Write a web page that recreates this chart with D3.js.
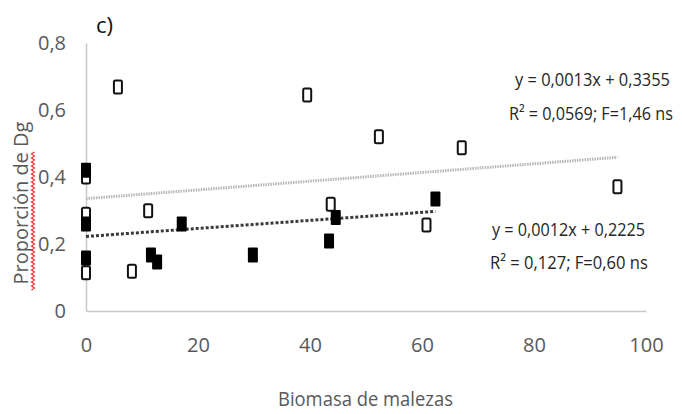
<!DOCTYPE html>
<html>
<head>
<meta charset="utf-8">
<script src="https://cdn.jsdelivr.net/npm/d3@7"></script>
<style>
  html, body { margin: 0; padding: 0; background: #fff; }
  svg { display: block; font-family: "Open Sans", sans-serif; }
</style>
</head>
<body>
<svg id="chart" width="682" height="414"></svg>
<script>
// Open squares: first group
const openX = [0, 0, 0, 5.7, 8.2, 11.1, 39.5, 43.7, 52.3, 60.8, 67.1, 94.9];
const openY = [0.40, 0.289, 0.114, 0.669, 0.119, 0.299, 0.645, 0.319, 0.52, 0.257, 0.487, 0.371];
// Filled squares: second group
const fillX = [0, 0, 0, 11.6, 12.7, 17.1, 29.8, 43.4, 44.6, 62.4];
const fillY = [0.42, 0.26, 0.158, 0.167, 0.146, 0.26, 0.167, 0.209, 0.279, 0.334];

// Linear fits (slope, intercept) and their labels
const openFit = { slope: 0.0013, intercept: 0.3355 };
const fillFit = { slope: 0.0012, intercept: 0.2225 };
const openLabels = ["y = 0,0013x + 0,3355", "R² = 0,0569; F=1,46 ns"];
const fillLabels = ["y = 0,0012x + 0,2225", "R² = 0,127; F=0,60 ns"];

const xTicks = [0, 20, 40, 60, 80, 100];
const yTicks = [0, 0.2, 0.4, 0.6, 0.8];
const xTitle = "Biomasa de malezas";
const yTitle = "Proporción de Dg";
const panel = "c)";

const svg = d3.select("#chart");
const x = d3.scaleLinear().domain([0, 100]).range([86, 646]);
const y = d3.scaleLinear().domain([0, 0.8]).range([311, 43]);
const fmt = v => String(v).replace(".", ",");

// Axes
const yAxis = svg.append("g").attr("transform", `translate(${x(0)},0)`)
  .call(d3.axisLeft(y).tickValues(yTicks).tickSize(0).tickPadding(20).tickFormat(fmt));
const xAxis = svg.append("g").attr("transform", `translate(0,${y(0)})`)
  .call(d3.axisBottom(x).tickValues(xTicks).tickSize(0).tickPadding(27).tickFormat(fmt));
[yAxis, xAxis].forEach(g => {
  g.select(".domain").attr("stroke", "#c8c8c8").attr("stroke-width", 1.5);
  g.selectAll("text").attr("fill", "#595959").style("font-size", "20px")
    .style("font-family", "'Open Sans', sans-serif");
});

// Trend lines
function fitLine(fit, xmax) {
  return [[0, fit.intercept], [xmax, fit.intercept + fit.slope * xmax]];
}
const line = d3.line().x(d => x(d[0])).y(d => y(d[1]));
svg.append("path").attr("d", line(fitLine(openFit, d3.max(openX))))
  .attr("stroke", "#b8b8b8").attr("stroke-width", 3).attr("fill", "none")
  .attr("stroke-dasharray", "1.5,1");
svg.append("path").attr("d", line(fitLine(fillFit, d3.max(fillX))))
  .attr("stroke", "#3a3a3a").attr("stroke-width", 3).attr("fill", "none")
  .attr("stroke-dasharray", "3,2");

// Markers
const w = 10, h = 15;
svg.append("g").selectAll("rect").data(openX.map((v, i) => [v, openY[i]])).join("rect")
  .attr("x", d => x(d[0]) - w / 2 + 1).attr("y", d => y(d[1]) - h / 2 + 1)
  .attr("width", w - 2).attr("height", h - 2).attr("rx", 1.5)
  .attr("fill", "#fff").attr("stroke", "#111").attr("stroke-width", 2);
svg.append("g").selectAll("rect").data(fillX.map((v, i) => [v, fillY[i]])).join("rect")
  .attr("x", d => x(d[0]) - w / 2).attr("y", d => y(d[1]) - h / 2)
  .attr("width", w).attr("height", h).attr("rx", 1)
  .attr("fill", "#000");

// Text squeezed horizontally into a given width (narrow face look)
function narrowText(str, left, baseline, width, size, color) {
  const g = svg.append("g");
  const t = g.append("text").attr("x", 0).attr("y", 0)
    .style("font-size", size).attr("fill", color).text(str);
  const natural = t.node().getComputedTextLength();
  g.attr("transform", `translate(${left},${baseline}) scale(${width / natural},1)`);
  return t;
}

// Fit labels
const openPos = [[515, 86, 155], [509, 120, 164]];
const fillPos = [[492, 236, 153], [490, 269, 158]];
openLabels.forEach((s, i) => narrowText(s, openPos[i][0], openPos[i][1], openPos[i][2], "18px", "#262626"));
fillLabels.forEach((s, i) => narrowText(s, fillPos[i][0], fillPos[i][1], fillPos[i][2], "18px", "#262626"));

// Titles
narrowText(xTitle, 278, 406, 175, "20px", "#595959");
svg.append("text").attr("transform", "translate(28,203) rotate(-90)")
  .attr("text-anchor", "middle").attr("fill", "#595959").style("font-size", "20px").text(yTitle);

// Spell-check squiggle under the first word of the y title
const wig = [];
for (let yy = 290, k = 0; yy >= 152; yy -= 2, k++) wig.push([33 + (k % 2 ? 1.5 : -1.5), yy]);
svg.append("path").attr("d", d3.line()(wig)).attr("stroke", "#e83030")
  .attr("stroke-width", 1.2).attr("fill", "none");

svg.append("text").attr("x", 96).attr("y", 33).attr("fill", "#111")
  .style("font-size", "22px").text(panel);
</script>
</body>
</html>
